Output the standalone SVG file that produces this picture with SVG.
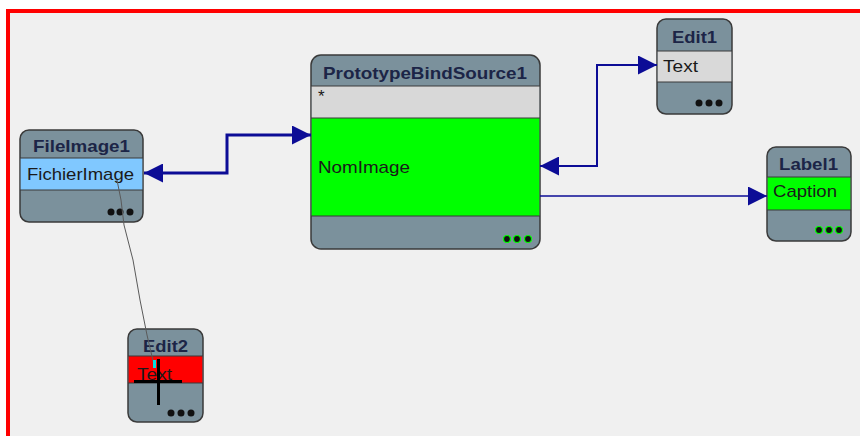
<svg xmlns="http://www.w3.org/2000/svg" width="860" height="436" viewBox="0 0 860 436">
<defs>
<style>
.box{fill:#7b919c;stroke:#3a3a3a;stroke-width:1.5}
.sep{stroke:#3a3a3a;stroke-width:1.2}
.title{font-family:"Liberation Sans",Arial,sans-serif;font-size:17px;font-weight:bold;fill:#1c2547}
.field{font-family:"Liberation Sans",Arial,sans-serif;font-size:17px;fill:#1a1a1a}
.dot{fill:#111}
.gdot{fill:#111;stroke:#00ff00;stroke-width:1.2}
.conn{fill:none;stroke:#0c0c96}
</style>
<marker id="ah" viewBox="0 0 10 10" refX="10" refY="5" markerWidth="19" markerHeight="19" markerUnits="userSpaceOnUse" orient="auto-start-reverse">
<path d="M0,0 L10,5 L0,10 Z" fill="#0c0c96"/>
</marker>
</defs>
<rect x="0" y="0" width="860" height="436" fill="#ffffff"/>
<rect x="8" y="11" width="860" height="440" fill="#f0f0f0" stroke="#ff0000" stroke-width="4"/>

<g id="FileImage1">
<rect class="box" x="20" y="130" width="123" height="92" rx="9"/>
<rect x="20.7" y="158" width="121.6" height="32" fill="#80c8ff"/>
<line class="sep" x1="20" y1="158" x2="143" y2="158"/>
<line class="sep" x1="20" y1="190" x2="143" y2="190"/>
<text class="title" x="33" y="152" textLength="97" lengthAdjust="spacingAndGlyphs">FileImage1</text>
<text class="field" x="27" y="180" textLength="107" lengthAdjust="spacingAndGlyphs">FichierImage</text>
<circle class="dot" cx="111" cy="212" r="3.5"/><circle class="dot" cx="120" cy="212" r="3.5"/><circle class="dot" cx="130" cy="212" r="3.5"/>
</g>

<g id="PrototypeBindSource1">
<rect class="box" x="311" y="55" width="229" height="194" rx="10"/>
<rect x="311.7" y="86" width="227.6" height="32" fill="#d8d8d8"/>
<rect x="311.7" y="118" width="227.6" height="98" fill="#00ff00"/>
<line class="sep" x1="311" y1="86" x2="540" y2="86"/>
<line class="sep" x1="311" y1="118" x2="540" y2="118"/>
<line class="sep" x1="311" y1="216" x2="540" y2="216"/>
<text class="title" x="323" y="79" textLength="204" lengthAdjust="spacingAndGlyphs">PrototypeBindSource1</text>
<text class="field" x="318" y="102" font-size="12">*</text>
<text class="field" x="318" y="173" textLength="92" lengthAdjust="spacingAndGlyphs">NomImage</text>
<circle class="gdot" cx="507" cy="239" r="3.5"/><circle class="gdot" cx="517" cy="239" r="3.5"/><circle class="gdot" cx="528" cy="239" r="3.5"/>
</g>

<g id="Edit1">
<rect class="box" x="657" y="19" width="75" height="95" rx="9"/>
<rect x="657.7" y="51" width="73.6" height="31" fill="#d9d9d9"/>
<line class="sep" x1="657" y1="51" x2="732" y2="51"/>
<line class="sep" x1="657" y1="82" x2="732" y2="82"/>
<text class="title" x="672" y="43" textLength="45" lengthAdjust="spacingAndGlyphs">Edit1</text>
<text class="field" x="663" y="72" textLength="35" lengthAdjust="spacingAndGlyphs">Text</text>
<circle class="dot" cx="699" cy="103" r="3.5"/><circle class="dot" cx="709" cy="103" r="3.5"/><circle class="dot" cx="719" cy="103" r="3.5"/>
</g>

<g id="Label1">
<rect class="box" x="767" y="147" width="84" height="94" rx="9"/>
<rect x="767.7" y="177" width="82.6" height="33" fill="#00ff00"/>
<line class="sep" x1="767" y1="177" x2="851" y2="177"/>
<line class="sep" x1="767" y1="210" x2="851" y2="210"/>
<text class="title" x="779" y="170" textLength="59" lengthAdjust="spacingAndGlyphs">Label1</text>
<text class="field" x="773" y="197" textLength="64" lengthAdjust="spacingAndGlyphs">Caption</text>
<circle class="gdot" cx="819" cy="230" r="3.5"/><circle class="gdot" cx="829" cy="230" r="3.5"/><circle class="gdot" cx="839" cy="230" r="3.5"/>
</g>

<g id="Edit2">
<rect class="box" x="128" y="329" width="75" height="93" rx="9"/>
<rect x="128.7" y="356" width="73.6" height="27" fill="#ff0000"/>
<line class="sep" x1="128" y1="356" x2="203" y2="356"/>
<line class="sep" x1="128" y1="383" x2="203" y2="383"/>
<text class="title" x="143" y="352" textLength="45" lengthAdjust="spacingAndGlyphs">Edit2</text>
<text class="field" x="137" y="380" textLength="35" lengthAdjust="spacingAndGlyphs">Text</text>
<circle class="dot" cx="171" cy="413" r="3.5"/><circle class="dot" cx="181" cy="413" r="3.5"/><circle class="dot" cx="191" cy="413" r="3.5"/>
</g>

<g id="connectors">
<polyline class="conn" stroke-width="3" points="144,173 227,173 227,135 311,135" marker-start="url(#ah)" marker-end="url(#ah)"/>
<polyline class="conn" stroke-width="2" points="540,166 597,166 597,65 657,65" marker-start="url(#ah)" marker-end="url(#ah)"/>
<line class="conn" stroke-width="1.5" x1="540" y1="196" x2="767" y2="196" marker-end="url(#ah)"/>
<path d="M117,180 L121,200 L124,225 L133,260 L140,300 L147,335 L154,365" fill="none" stroke="#5a5a5a" stroke-width="1"/>
</g>

<g id="cursor">
<rect x="153" y="360" width="3" height="8" fill="#00e0e0"/>
<line x1="158.5" y1="359" x2="158.5" y2="405" stroke="#000" stroke-width="3"/>
<line x1="134" y1="381.5" x2="182" y2="381.5" stroke="#000" stroke-width="3"/>
</g>
</svg>
